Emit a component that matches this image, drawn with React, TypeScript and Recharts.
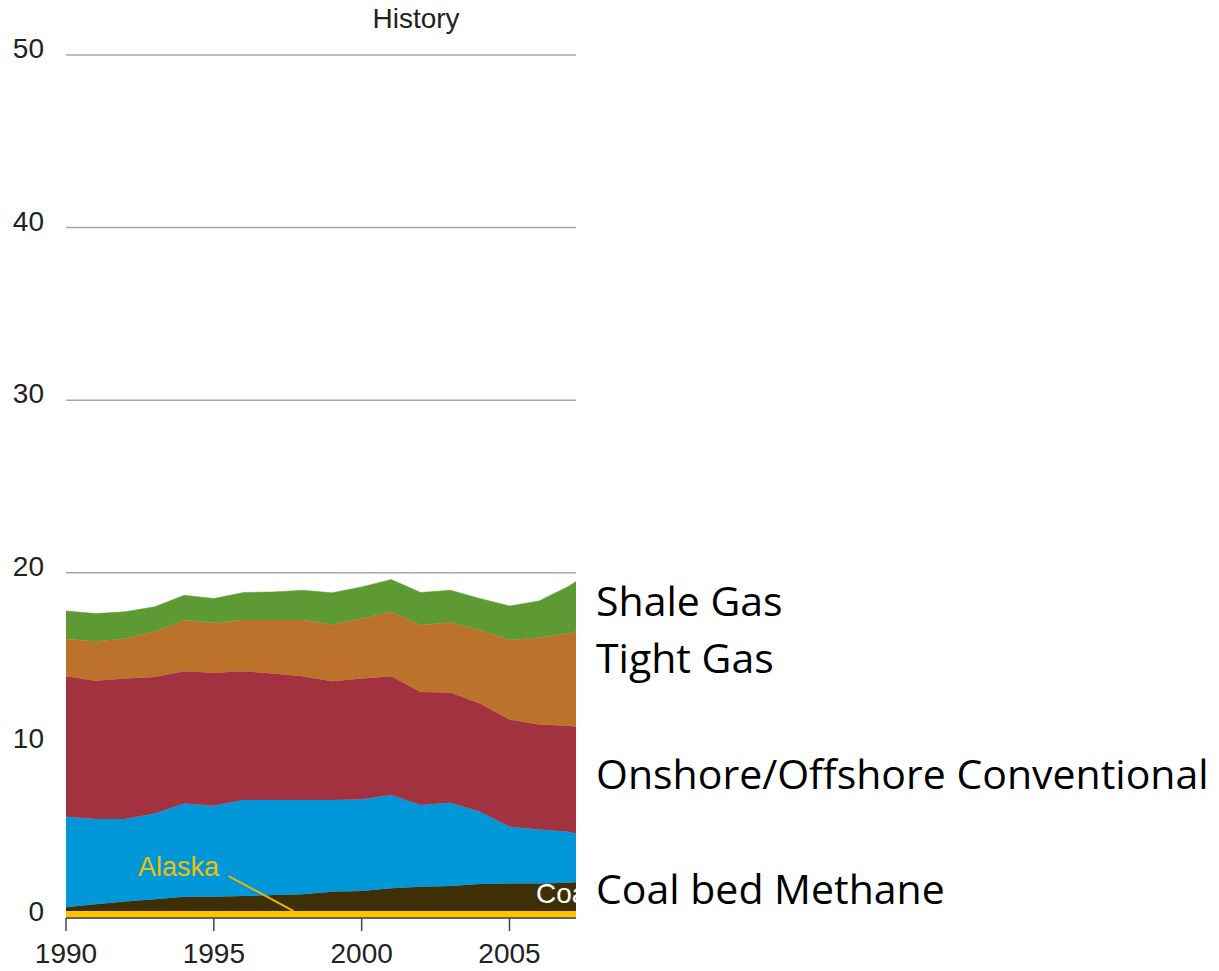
import React from "react";
import {
  Area,
  AreaChart,
  CartesianGrid,
  ReferenceLine,
  XAxis,
  YAxis,
} from "recharts";

// years shown (2008 only sneaks in past the cropped right edge)
const years = [
  1990, 1991, 1992, 1993, 1994, 1995, 1996, 1997, 1998, 1999, 2000, 2001, 2002,
  2003, 2004, 2005, 2006, 2007, 2008,
];

// trillion cubic feet, stacked bottom to top
const alaska = [0.4, 0.4, 0.4, 0.4, 0.4, 0.4, 0.4, 0.4, 0.4, 0.4, 0.4, 0.4, 0.4, 0.4, 0.4, 0.4, 0.4, 0.4, 0.4];
const coalbed = [0.22, 0.39, 0.55, 0.68, 0.83, 0.83, 0.87, 0.93, 0.97, 1.12, 1.16, 1.32, 1.41, 1.45, 1.57, 1.6, 1.6, 1.64, 1.75];
const onshore = [5.25, 4.94, 4.78, 4.98, 5.41, 5.27, 5.56, 5.5, 5.46, 5.31, 5.3, 5.4, 4.73, 4.83, 4.19, 3.29, 3.13, 2.96, 2.45];
const offshore = [8.14, 8.01, 8.15, 7.91, 7.66, 7.71, 7.47, 7.34, 7.18, 6.89, 7.02, 6.89, 6.56, 6.39, 6.27, 6.21, 6.08, 6.14, 6.3];
const tight = [2.15, 2.3, 2.31, 2.61, 2.96, 2.89, 2.96, 3.09, 3.25, 3.28, 3.47, 3.73, 3.87, 4.05, 4.25, 4.6, 5.04, 5.34, 6.1];
const shale = [1.63, 1.6, 1.55, 1.45, 1.44, 1.41, 1.6, 1.63, 1.73, 1.84, 1.83, 1.87, 1.89, 1.87, 1.83, 1.98, 2.12, 2.74, 3.3];

const xTicks = [1990, 1995, 2000, 2005];
const yTicks = [0, 10, 20, 30, 40, 50];

const data = years.map((year, i) => ({
  year,
  alaska: alaska[i],
  coalbed: coalbed[i],
  onshore: onshore[i],
  offshore: offshore[i],
  tight: tight[i],
  shale: shale[i],
}));

const series = [
  { key: "alaska", color: "#ffc400" },
  { key: "coalbed", color: "#3f2f06" },
  { key: "onshore", color: "#0097d9" },
  { key: "offshore", color: "#a33241" },
  { key: "tight", color: "#bd722b" },
  { key: "shale", color: "#5e9a34" },
];

const axisFont = "'Liberation Sans', Arial, sans-serif";
const sideFont = "'Open Sans', 'Noto Sans', sans-serif";

export default function App() {
  return (
    <div style={{ position: "absolute", left: 0, top: 0, width: 1219, height: 971, background: "#fff" }}>
      <AreaChart
        width={1219}
        height={971}
        data={data}
        margin={{ top: 55, right: 643, bottom: 0, left: 0 }}
      >
        <CartesianGrid horizontal vertical={false} stroke="#a8a8a8" strokeWidth={1.5} />
        <XAxis
          dataKey="year"
          type="number"
          domain={[1990, 2007.25]}
          allowDataOverflow
          ticks={xTicks}
          height={53}
          tickSize={13}
          tickMargin={12}
          axisLine={{ stroke: "#444", strokeWidth: 1.5 }}
          tickLine={{ stroke: "#444", strokeWidth: 1.5 }}
          tick={{ fontSize: 28, fill: "#222", fontFamily: axisFont }}
        />
        <YAxis
          domain={[0, 50]}
          ticks={yTicks}
          width={66}
          tickSize={0}
          tickMargin={22}
          axisLine={false}
          tickLine={false}
          tick={{ fontSize: 28, fill: "#222", fontFamily: axisFont, dy: -7 }}
        />
        {series.map((s) => (
          <Area
            key={s.key}
            dataKey={s.key}
            stackId="1"
            type="linear"
            fill={s.color}
            fillOpacity={1}
            stroke={s.color}
            strokeWidth={0.5}
            isAnimationActive={false}
          />
        ))}
        <ReferenceLine
          segment={[
            { x: 1995.5, y: 2.43 },
            { x: 1997.7, y: 0.4 },
          ]}
          stroke="#e8b800"
          strokeWidth={2}
          ifOverflow="visible"
        />
      </AreaChart>
      <svg
        width={1219}
        height={971}
        style={{ position: "absolute", left: 0, top: 0, pointerEvents: "none" }}
      >
        <defs>
          <clipPath id="plotClip">
            <rect x={66} y={0} width={510} height={971} />
          </clipPath>
        </defs>
        <text x={416} y={28} textAnchor="middle" fontSize={28} fill="#222" fontFamily={axisFont}>
          History
        </text>
        <text x={138} y={876} fontSize={27} fill="#f0c000" fontFamily={axisFont}>
          Alaska
        </text>
        {/* label is cut by the plot edge in the source */}
        <text x={536} y={903} fontSize={28} fill="#fff" fontFamily={axisFont} clipPath="url(#plotClip)">
          Coa
        </text>
        <g fontFamily={sideFont} fontSize={41} fill="#000">
          <text x={596} y={616}>Shale Gas</text>
          <text x={596} y={673}>Tight Gas</text>
          <text x={596} y={789}>Onshore/Offshore Conventional</text>
          <text x={596} y={904}>Coal bed Methane</text>
        </g>
      </svg>
    </div>
  );
}
